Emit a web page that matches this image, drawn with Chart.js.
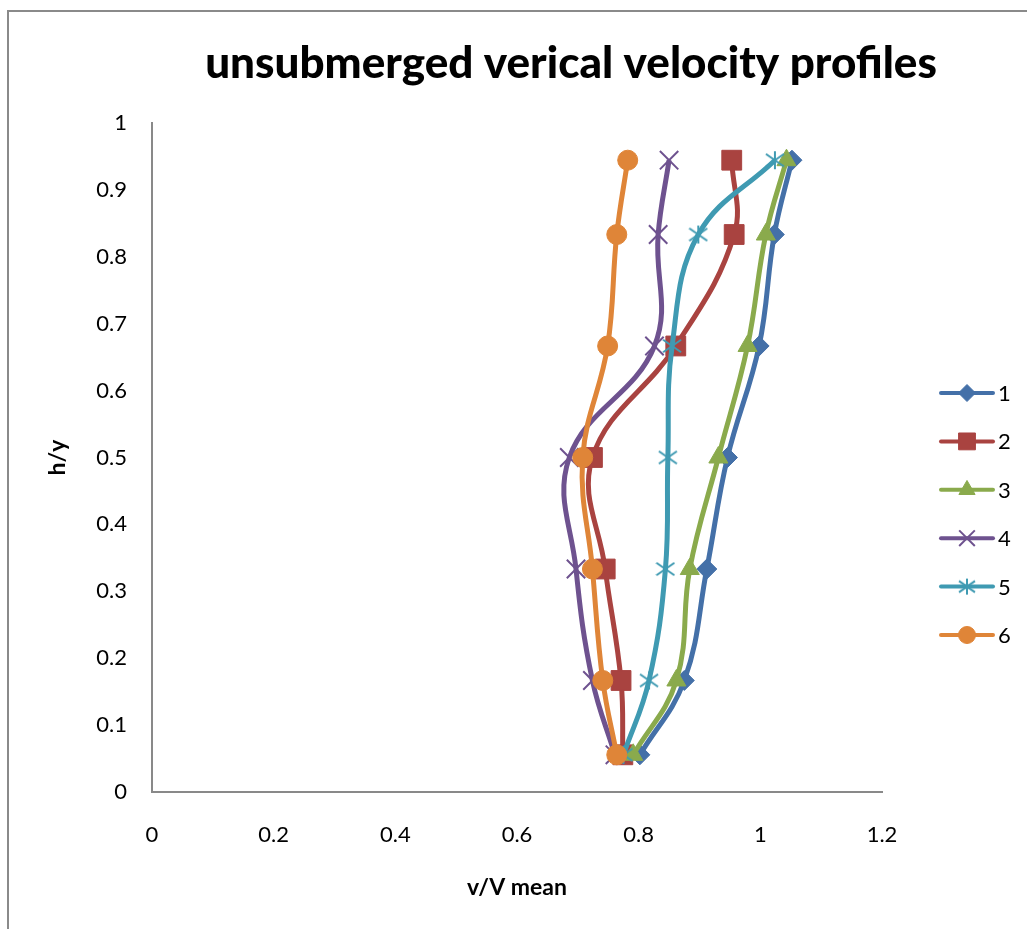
<!DOCTYPE html>
<html>
<head>
<meta charset="utf-8">
<script src="https://cdn.jsdelivr.net/npm/chart.js@4.4.1/dist/chart.umd.min.js"></script>
<style>
	html, body { margin: 0; padding: 0; background: #fff; overflow: hidden; }
	#frame { position: absolute; left: 7px; top: 10px; width: 1100px; height: 1000px; border: 2px solid #8a8a8a; }
	#chart { position: absolute; left: 0; top: 0; }
</style>
</head>
<body>
<div id="frame"></div>
<canvas id="chart" width="1027" height="929"></canvas>
<script>
// relative depth h/y (same for every profile)
const depth = [0.0556, 0.1667, 0.3333, 0.5, 0.6667, 0.8333, 0.9444];

// v/V mean for each profile, bottom to top
const profile1 = [0.802, 0.875, 0.912, 0.946, 0.998, 1.023, 1.052];
const profile2 = [0.774, 0.771, 0.745, 0.724, 0.861, 0.957, 0.953];
const profile3 = [0.791, 0.862, 0.884, 0.931, 0.979, 1.009, 1.043];
const profile4 = [0.761, 0.724, 0.697, 0.686, 0.826, 0.832, 0.850];
const profile5 = [0.775, 0.817, 0.844, 0.848, 0.855, 0.898, 1.024];
const profile6 = [0.764, 0.741, 0.724, 0.708, 0.749, 0.764, 0.782];

const seriesNames = ["1", "2", "3", "4", "5", "6"];
const xTickLabels = ["0", "0.2", "0.4", "0.6", "0.8", "1", "1.2"];
const yTickLabels = ["0", "0.1", "0.2", "0.3", "0.4", "0.5", "0.6", "0.7", "0.8", "0.9", "1"];
const chartTitle = "unsubmerged verical velocity profiles";

const profiles = [profile1, profile2, profile3, profile4, profile5, profile6];
const colors = ["#4470A8", "#A94340", "#8AAA4C", "#6E528F", "#3F9AB2", "#DF8538"];
const markers = ["rectRot", "rect", "triangle", "crossRot", "asterisk", "circle"];
const markerRadius = [10, 14, 11, 13, 10, 10];
const FONT = "Lato";

// excel style star: vertical bar plus two flat diagonals
function asteriskImage(color, size) {
	const c = document.createElement("canvas");
	c.width = size;
	c.height = size;
	const g = c.getContext("2d");
	const m = size / 2, r = size / 2 - 1;
	g.strokeStyle = color;
	g.lineWidth = 2;
	g.beginPath();
	g.moveTo(m, m - r); g.lineTo(m, m + r);
	g.moveTo(m - r, m - r * 0.7); g.lineTo(m + r, m + r * 0.7);
	g.moveTo(m - r, m + r * 0.7); g.lineTo(m + r, m - r * 0.7);
	g.stroke();
	return c;
}

function markerStyle(i, legend) {
	if (markers[i] === "asterisk") return asteriskImage(colors[i], legend ? 18 : 20);
	return markers[i];
}

const datasets = profiles.map((vals, i) => ({
	label: seriesNames[i],
	data: vals.map((v, k) => ({x: v, y: depth[k]})),
	showLine: true,
	borderColor: colors[i],
	backgroundColor: colors[i],
	borderWidth: 5,
	tension: 0.4,
	pointStyle: markerStyle(i, false),
	pointRadius: markerRadius[i],
	pointBorderWidth: markers[i] === "crossRot" ? 2 : 1,
	pointBorderColor: colors[i],
	pointBackgroundColor: colors[i],
	order: 6 - i
}));

const titlePlugin = {
	id: "sheetTitle",
	afterDraw(chart) {
		const ctx = chart.ctx;
		ctx.save();
		ctx.font = "900 44px " + FONT;
		ctx.fillStyle = "#000";
		ctx.textAlign = "center";
		ctx.textBaseline = "alphabetic";
		ctx.fillText(chartTitle, 571, 78);
		ctx.restore();
	}
};

const legendPlugin = {
	id: "sheetLegend",
	afterDraw(chart) {
		const ctx = chart.ctx;
		ctx.save();
		seriesNames.forEach((name, i) => {
			const y = 393 + i * 48.4;
			ctx.strokeStyle = colors[i];
			ctx.fillStyle = colors[i];
			ctx.lineWidth = 4;
			ctx.lineCap = "round";
			ctx.beginPath();
			ctx.moveTo(941, y);
			ctx.lineTo(993, y);
			ctx.stroke();
			ctx.lineCap = "butt";
			ctx.lineWidth = markers[i] === "crossRot" ? 2 : 1;
			Chart.helpers.drawPoint(ctx, {
				pointStyle: markerStyle(i, true),
				radius: markerRadius[i] * 0.85,
				borderWidth: ctx.lineWidth,
				rotation: 0
			}, 967, y);
			ctx.fillStyle = "#000";
			ctx.font = "22px " + FONT;
			ctx.textAlign = "left";
			ctx.textBaseline = "middle";
			ctx.fillText(name, 998, y + 1);
		});
		ctx.restore();
	}
};

new Chart(document.getElementById("chart"), {
	type: "scatter",
	data: {datasets: datasets},
	plugins: [titlePlugin, legendPlugin],
	options: {
		responsive: false,
		animation: false,
		layout: {padding: {left: 44, right: 145, top: 123, bottom: 28}},
		plugins: {legend: {display: false}, tooltip: {enabled: false}, title: {display: false}},
		scales: {
			x: {
				type: "linear",
				min: 0,
				max: 1.2,
				ticks: {
					stepSize: 0.2,
					color: "#000",
					padding: 30,
					font: {family: FONT, size: 22},
					callback: (v, i) => xTickLabels[i]
				},
				grid: {display: false, drawTicks: false},
				border: {display: true, color: "#898989", width: 2},
				title: {display: true, text: "v/V mean", color: "#000", padding: 0,
					font: {family: FONT, size: 23, weight: "bold"}},
				afterFit(scale) { scale.height = 109; }
			},
			y: {
				type: "linear",
				min: 0,
				max: 1,
				ticks: {
					stepSize: 0.1,
					color: "#000",
					padding: 25,
					font: {family: FONT, size: 22},
					callback: (v, i) => yTickLabels[i]
				},
				grid: {display: false, drawTicks: false},
				border: {display: true, color: "#898989", width: 2},
				title: {display: true, text: "h/y", color: "#000", padding: 0,
					font: {family: FONT, size: 23, weight: "bold"}},
				afterFit(scale) { scale.width = 108; }
			}
		}
	}
});
</script>
</body>
</html>
